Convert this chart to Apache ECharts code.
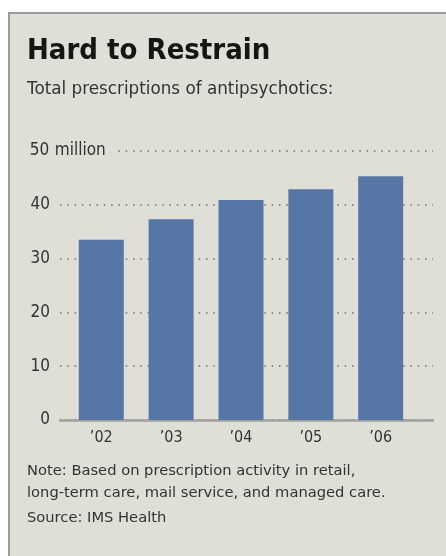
<!DOCTYPE html>
<html>
<head>
<meta charset="utf-8">
<script src="https://cdn.jsdelivr.net/npm/echarts@6/dist/echarts.min.js"></script>
<style>
html,body{margin:0;padding:0;background:#fff;width:446px;height:556px;overflow:hidden;}
#panel{position:absolute;left:8px;top:12px;width:440px;height:546px;background:#dfded7;border-left:2px solid #9a9a9a;border-top:2px solid #9a9a9a;}
#chart{position:absolute;left:0;top:0;width:446px;height:556px;}
</style>
</head>
<body>
<div id="panel"></div>
<div id="chart"></div>
<script>
const years = [2002, 2003, 2004, 2005, 2006];
const yearLabels = ["’02", "’03", "’04", "’05", "’06"];
const prescriptions = [33.5, 37.3, 40.9, 42.9, 45.3];
const yTicks = [0, 10, 20, 30, 40, 50];

const FONT_C = '"DejaVu Sans Condensed", "DejaVu Sans", sans-serif';
const FONT = '"DejaVu Sans", sans-serif';
const chart = echarts.init(document.getElementById('chart'), null, {renderer: 'canvas'});
chart.setOption({
  backgroundColor: 'transparent',
  animation: false,
  title: [
    {text: 'Hard to Restrain', left: 27, top: 37, padding: 0,
     textStyle: {fontFamily: FONT_C, fontSize: 29, fontWeight: 'bold', color: '#151515'}},
    {text: 'Total prescriptions of antipsychotics:', left: 27, top: 81, padding: 0,
     textStyle: {fontFamily: FONT, fontSize: 16.8, fontWeight: 'normal', color: '#333'}},
    {text: 'Note: Based on prescription activity in retail,\nlong-term care, mail service, and managed care.', left: 27, top: 460, padding: 0,
     textStyle: {fontFamily: FONT, fontSize: 14.7, fontWeight: 'normal', color: '#333', lineHeight: 22}},
    {text: 'Source: IMS Health', left: 27, top: 511, padding: 0,
     textStyle: {fontFamily: FONT, fontSize: 14.7, fontWeight: 'normal', color: '#333'}}
  ],
  grid: {left: 60, right: 13, top: 151, bottom: 136, containLabel: false},
  xAxis: {
    type: 'value', min: 2001.409, max: 2006.749,
    axisLine: {show: true, lineStyle: {color: '#a0a0a0', width: 2.5}},
    axisTick: {show: false},
    splitLine: {show: false},
    axisLabel: {
      customValues: years,
      margin: 10,
      formatter: function (v) { return yearLabels[years.indexOf(v)] || ''; },
      fontFamily: FONT_C, fontSize: 16, color: '#333'
    }
  },
  yAxis: {
    type: 'value', min: 0, max: 50, interval: 10,
    axisLine: {show: false},
    axisTick: {show: false},
    splitLine: {show: true, lineStyle: {color: '#6e6e6e', width: 1.5, type: [1.5, 5.8]}},
    axisLabel: {
      align: 'left', margin: 31,
      formatter: function (v) {
        const i = yTicks.indexOf(v);
        if (i === yTicks.length - 1) return '{n|' + v + '}{m| million}';
        return '{n|' + v + '}';
      },
      rich: {
        n: {fontFamily: FONT_C, fontSize: 17, color: '#333', width: 21, align: 'right'},
        m: {fontFamily: FONT_C, fontSize: 17, color: '#333', backgroundColor: '#dfded7', padding: [3, 9, 3, 0]}
      }
    }
  },
  series: [{
    type: 'bar',
    data: years.map((y, i) => [y, prescriptions[i]]),
    barWidth: 45,
    itemStyle: {color: '#5677a6'}
  }]
});
</script>
</body>
</html>
